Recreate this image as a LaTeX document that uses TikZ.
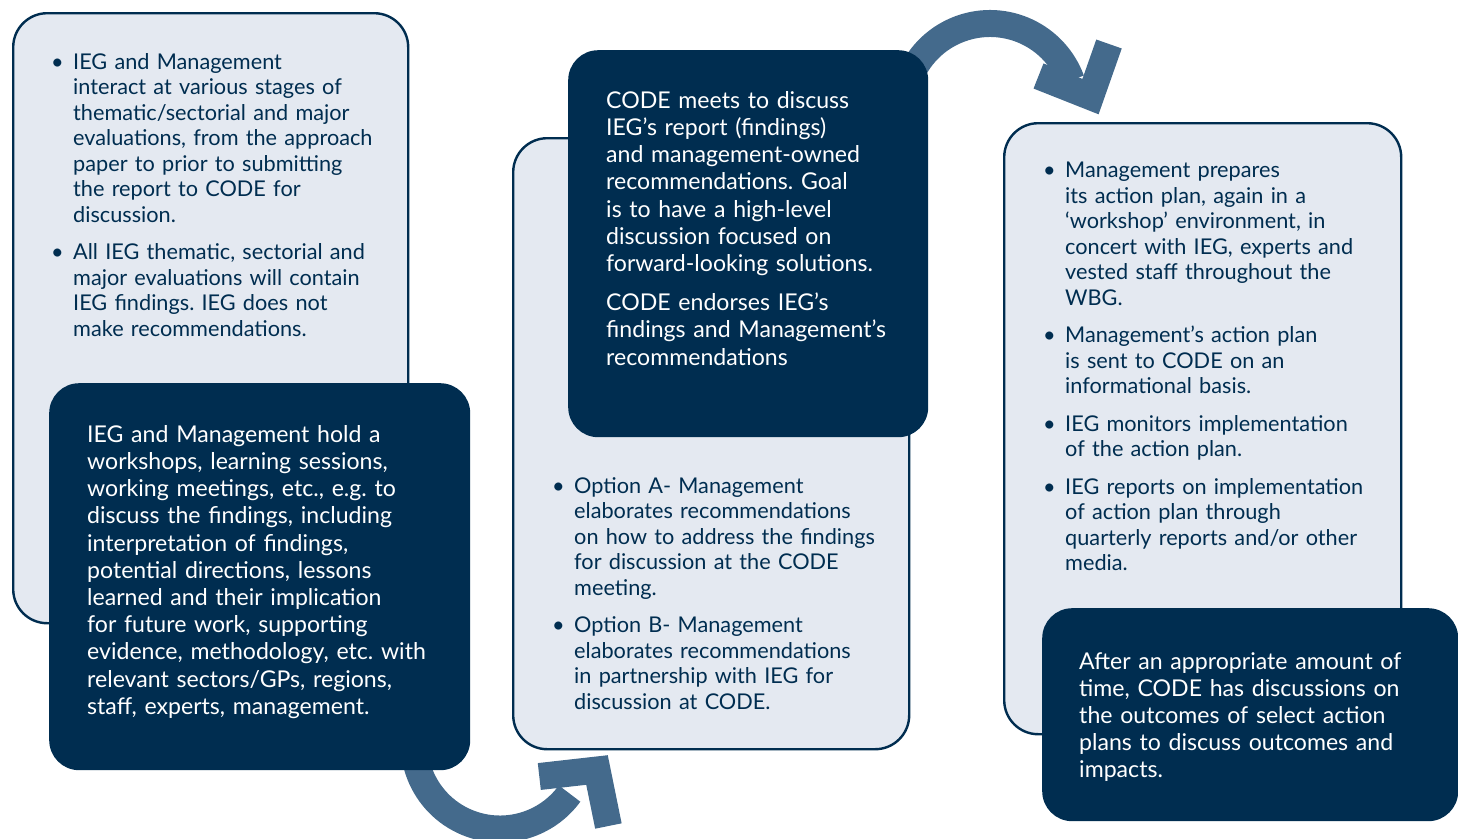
\documentclass[tikz,border=0pt]{standalone}
\usepackage{fontspec}
\setmainfont{Lato}
\usepackage{xcolor}
\usetikzlibrary{positioning}
\definecolor{navy}{HTML}{002D50}
\definecolor{paleblue}{HTML}{E4E9F1}
\definecolor{arrowblue}{HTML}{446A8C}
\newcommand{\bul}{\hangindent=22pt\hangafter=1\noindent\makebox[22pt][l]{\textbullet}}
\newcommand{\gap}{\par\vspace{12pt}}
\frenchspacing

\begin{document}
\begin{tikzpicture}[
  x=1pt, y=-1pt,
  lightbox/.style={draw=navy, line width=2.4pt, fill=paleblue, rounded corners=34pt, anchor=north west, inner sep=0pt},
  darkbox/.style={fill=navy, rounded corners=30pt, anchor=north west, inner sep=0pt},
  lighttext/.style={anchor=north west, inner sep=0pt, text=navy, text width=380pt, align=left,
    font=\fontsize{21.7}{25.5}\selectfont},
  darktext/.style={anchor=north west, inner sep=0pt, text=white, text width=380pt, align=left,
    font=\fontsize{23.1}{27.2}\selectfont},
  curvearrow/.style={draw=arrowblue, line width=27pt},
  arrowhead/.style={draw=arrowblue, line width=27pt, line join=miter}
]
\useasboundingbox (0,0) rectangle (1458,838);

% Curved arrows behind the boxes
\draw[curvearrow] (500,743) ++(200:86) arc[start angle=200, end angle=36, radius=86];
\draw[arrowhead] (539.3,776.5) -- (597,770) -- (608.4,826);
\draw[curvearrow] (990,110) ++(160:86.5) arc[start angle=160, end angle=340, radius=86.5];
\draw[arrowhead] (1038.5,76) -- (1090.5,96.6) -- (1109,44);

% Step 1
\node[lightbox, minimum width=395pt, minimum height=610pt] (box1) at (12,12) {};
\node[lighttext] (txt1) at (51,53) {%
\bul IEG and Management\newline interact at various stages of\newline thematic/sectorial and major\newline evaluations, from the approach\newline paper to prior to submitting\newline the report to CODE for\newline discussion.
\gap\bul All IEG thematic, sectorial and\newline major evaluations will contain\newline IEG findings. IEG does not\newline make recommendations.\par};

\node[darkbox, minimum width=421pt, minimum height=387pt] (box2) at (49,383) {};
\node[darktext] (txt2) at (87,425) {IEG and Management hold a\\ workshops, learning sessions,\\ working meetings, etc., e.g. to\\ discuss the findings, including\\ interpretation of findings,\\ potential directions, lessons\\ learned and their implication\\ for future work, supporting\\ evidence, methodology, etc. with\\ relevant sectors/GPs, regions,\\ staff, experts, management.};

% Step 2
\node[lightbox, minimum width=396pt, minimum height=611pt] (box3) at (512,137) {};
\node[lighttext] (txt3) at (552,477) {%
\bul Option A- Management\newline elaborates recommendations\newline on how to address the findings\newline for discussion at the CODE\newline meeting.
\gap\bul Option B- Management\newline elaborates recommendations\newline in partnership with IEG for\newline discussion at CODE.\par};

\node[darkbox, minimum width=360pt, minimum height=387pt] (box4) at (568,50) {};
\node[darktext] (txt4) at (606,91) {CODE meets to discuss\\ IEG’s report (findings)\\ and management-owned\\ recommendations. Goal\\ is to have a high-level\\ discussion focused on\\ forward-looking solutions.\\[12pt] CODE endorses IEG’s\\ findings and Management’s\\ recommendations};

% Step 3
\node[lightbox, minimum width=397pt, minimum height=611pt] (box5) at (1003,122) {};
\node[lighttext] (txt5) at (1043,162) {%
\bul Management prepares\newline its action plan, again in a\newline ‘workshop’ environment, in\newline concert with IEG, experts and\newline vested staff throughout the\newline WBG.
\gap\bul Management’s action plan\newline is sent to CODE on an\newline informational basis.
\gap\bul IEG monitors implementation\newline of the action plan.
\gap\bul IEG reports on implementation\newline of action plan through\newline quarterly reports and/or other\newline media.\par};

\node[darkbox, minimum width=416pt, minimum height=213pt] (box6) at (1042,608) {};
\node[darktext] (txt6) at (1079,652) {After an appropriate amount of\\ time, CODE has discussions on\\ the outcomes of select action\\ plans to discuss outcomes and\\ impacts.};

\end{tikzpicture}
\end{document}
